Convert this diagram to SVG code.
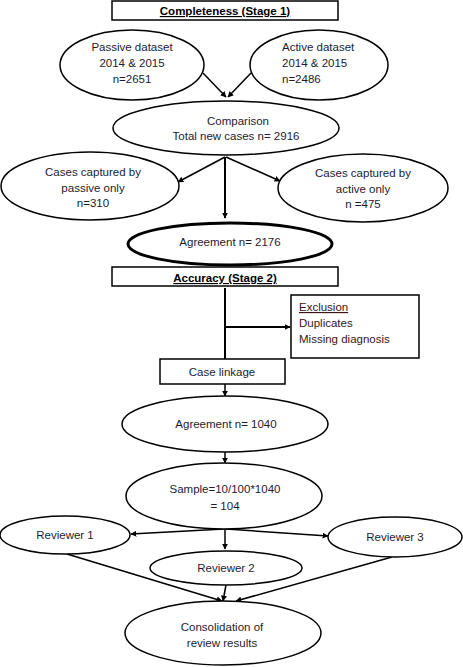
<svg xmlns="http://www.w3.org/2000/svg" width="463" height="667" viewBox="0 0 463 667">
<style>
.n{fill:#fff;stroke:#000;stroke-width:1.5}
.thick{stroke-width:3}
text{font-family:"Liberation Sans",Arial,sans-serif;font-size:11.5px;fill:#1c1c30;text-anchor:middle}
.b{font-weight:bold;text-decoration:underline;fill:#000}
.ex{fill:#3a1418;text-anchor:start}
.c line{stroke:#000;stroke-width:1.5}
.c .a{marker-end:url(#ah)}
</style>
<defs>
<marker id="ah" viewBox="0 0 10 10" refX="9" refY="5" markerWidth="6" markerHeight="6" markerUnits="userSpaceOnUse" orient="auto">
<path d="M0,0 L10,5 L0,10 z" fill="#000"/>
</marker>
</defs>
<rect width="463" height="667" fill="#fff"/>
<g class="c" id="connectors">
<line class="a" x1="203" y1="73" x2="226" y2="97"/>
<line class="a" x1="251" y1="73" x2="228" y2="97"/>
<line class="a" x1="225" y1="157" x2="178" y2="182"/>
<line class="a" x1="226" y1="157" x2="280" y2="181"/>
<line class="a" x1="225" y1="157" x2="225" y2="218" style="stroke-width:2"/>
<line x1="225" y1="288" x2="225" y2="359" style="stroke-width:2"/>
<line class="a" x1="225" y1="327" x2="290" y2="327" style="stroke-width:2"/>
<line class="a" x1="225" y1="384" x2="225" y2="396"/>
<line class="a" x1="225" y1="452" x2="225" y2="463"/>
<line class="a" x1="224" y1="529" x2="131" y2="534"/>
<line class="a" x1="226" y1="529" x2="328" y2="536"/>
<line class="a" x1="225" y1="529" x2="225" y2="549"/>
<line class="a" x1="67" y1="554" x2="222" y2="601"/>
<line class="a" x1="226" y1="585" x2="223" y2="601"/>
<line class="a" x1="392" y1="557" x2="236" y2="601"/>
</g>
<g id="completeness">
<rect class="n" x="112" y="1" width="226" height="19"/>
<text class="b" x="225" y="15">Completeness (Stage 1)</text>
</g>
<g id="passive">
<ellipse class="n" cx="132" cy="65" rx="72" ry="35"/>
<text x="132" y="51">Passive dataset</text>
<text x="132" y="67">2014 &amp; 2015</text>
<text x="132" y="83">n=2651</text>
</g>
<g id="active">
<ellipse class="n" cx="319" cy="65" rx="69" ry="35"/>
<text x="282" y="51" style="text-anchor:start">Active dataset</text>
<text x="282" y="67" style="text-anchor:start">2014 &amp; 2015</text>
<text x="282" y="83" style="text-anchor:start">n=2486</text>
</g>
<g id="comparison">
<ellipse class="n" cx="226" cy="128" rx="113" ry="27"/>
<text x="238" y="125">Comparison</text>
<text x="236" y="140">Total new cases n= 2916</text>
</g>
<g id="passive-only">
<ellipse class="n" cx="90" cy="186" rx="89" ry="34"/>
<text x="93" y="176">Cases captured by</text>
<text x="93" y="192">passive only</text>
<text x="93" y="207">n=310</text>
</g>
<g id="active-only">
<ellipse class="n" cx="363" cy="188" rx="85" ry="34"/>
<text x="363" y="177">Cases captured by</text>
<text x="363" y="193">active only</text>
<text x="363" y="208">n =475</text>
</g>
<g id="agreement1">
<ellipse class="n thick" cx="230" cy="244" rx="102" ry="21"/>
<text x="230" y="246">Agreement n= 2176</text>
</g>
<g id="accuracy">
<rect class="n" x="112" y="267" width="226" height="19"/>
<text class="b" x="225" y="282">Accuracy (Stage 2)</text>
</g>
<g id="exclusion">
<rect class="n" x="291" y="295" width="128" height="63"/>
<text class="ex" x="299" y="311" style="text-decoration:underline">Exclusion</text>
<text class="ex" x="299" y="327">Duplicates</text>
<text class="ex" x="299" y="343">Missing diagnosis</text>
</g>
<g id="case-linkage">
<rect class="n" x="160" y="359" width="125" height="25"/>
<text x="222" y="376">Case linkage</text>
</g>
<g id="agreement2">
<ellipse class="n" cx="225" cy="424" rx="103" ry="28"/>
<text x="226" y="428">Agreement n= 1040</text>
</g>
<g id="sample">
<ellipse class="n" cx="224" cy="496" rx="98" ry="33"/>
<text x="225" y="493">Sample=10/100*1040</text>
<text x="225" y="510">= 104</text>
</g>
<g id="reviewer1">
<ellipse class="n" cx="65" cy="535" rx="65" ry="19"/>
<text x="65" y="539">Reviewer 1</text>
</g>
<g id="reviewer3">
<ellipse class="n" cx="395" cy="537" rx="67" ry="20"/>
<text x="395" y="541">Reviewer 3</text>
</g>
<g id="reviewer2">
<ellipse class="n" cx="226" cy="568" rx="76" ry="17"/>
<text x="226" y="572">Reviewer 2</text>
</g>
<g id="consolidation">
<ellipse class="n" cx="223" cy="633" rx="98" ry="32"/>
<text x="222" y="631">Consolidation of</text>
<text x="222" y="647">review results</text>
</g>
</svg>
